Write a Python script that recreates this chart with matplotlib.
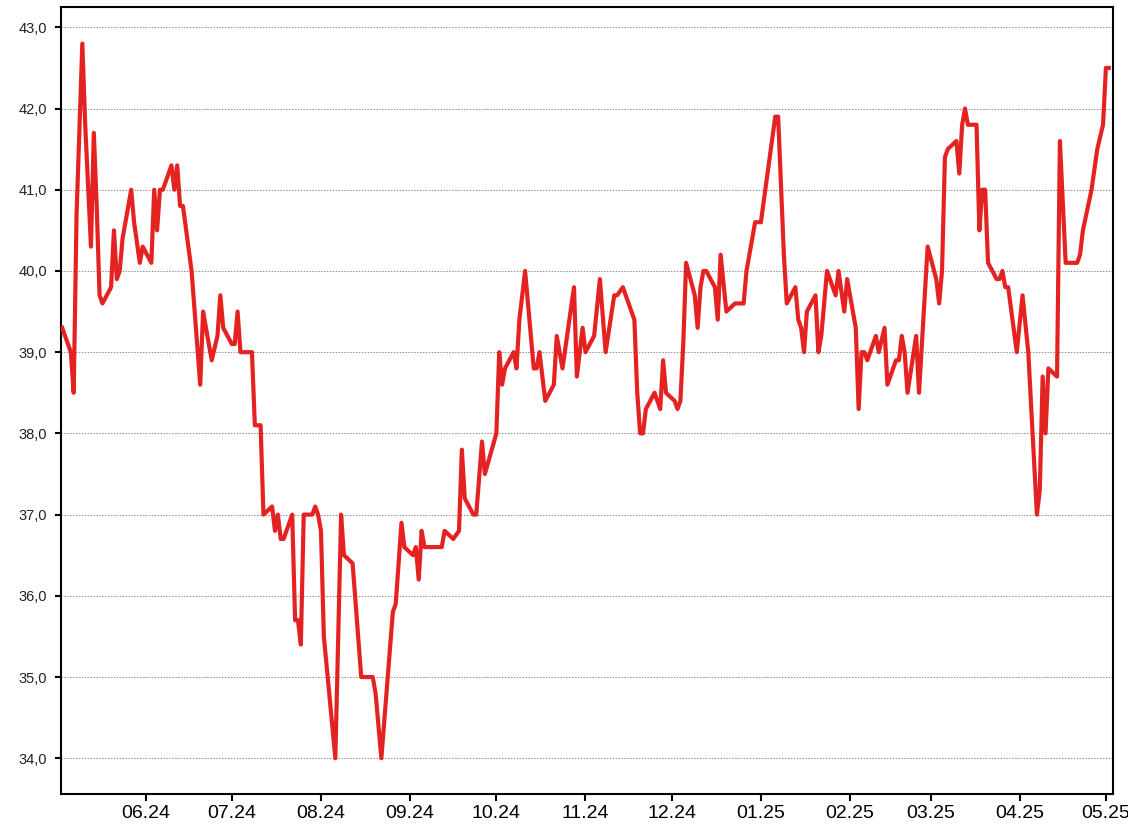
import matplotlib
matplotlib.use("Agg")
import matplotlib.pyplot as plt
import matplotlib.dates as mdates
import matplotlib.ticker as mticker
import pandas as pd

dates = [
    "2024-05-03", "2024-05-06", "2024-05-07", "2024-05-08", "2024-05-10", "2024-05-11",
    "2024-05-13", "2024-05-14", "2024-05-15", "2024-05-16", "2024-05-17", "2024-05-20",
    "2024-05-21", "2024-05-22", "2024-05-23", "2024-05-24", "2024-05-27", "2024-05-28",
    "2024-05-30", "2024-05-31",
    "2024-06-03", "2024-06-04", "2024-06-05", "2024-06-06", "2024-06-07", "2024-06-10",
    "2024-06-11", "2024-06-12", "2024-06-13", "2024-06-14", "2024-06-17", "2024-06-20",
    "2024-06-21", "2024-06-24", "2024-06-26", "2024-06-27", "2024-06-28",
    "2024-07-01", "2024-07-02", "2024-07-03", "2024-07-04", "2024-07-08", "2024-07-09",
    "2024-07-11", "2024-07-12", "2024-07-15", "2024-07-16", "2024-07-17", "2024-07-18",
    "2024-07-19", "2024-07-22", "2024-07-23", "2024-07-24", "2024-07-25", "2024-07-26",
    "2024-07-29", "2024-07-30", "2024-07-31",
    "2024-08-01", "2024-08-02", "2024-08-06", "2024-08-08", "2024-08-09", "2024-08-12",
    "2024-08-15", "2024-08-19", "2024-08-20", "2024-08-22", "2024-08-26", "2024-08-27",
    "2024-08-29", "2024-08-30",
    "2024-09-02", "2024-09-03", "2024-09-04", "2024-09-05", "2024-09-06", "2024-09-12",
    "2024-09-13", "2024-09-16", "2024-09-18", "2024-09-19", "2024-09-20", "2024-09-23",
    "2024-09-24", "2024-09-26", "2024-09-27",
    "2024-10-01", "2024-10-02", "2024-10-03", "2024-10-04", "2024-10-07", "2024-10-08",
    "2024-10-09", "2024-10-11", "2024-10-14", "2024-10-15", "2024-10-16", "2024-10-18",
    "2024-10-21", "2024-10-22", "2024-10-24", "2024-10-28", "2024-10-29", "2024-10-31",
    "2024-11-01", "2024-11-04", "2024-11-06", "2024-11-08", "2024-11-11", "2024-11-12",
    "2024-11-14", "2024-11-18", "2024-11-19", "2024-11-20", "2024-11-21", "2024-11-22",
    "2024-11-25", "2024-11-27", "2024-11-28", "2024-11-29",
    "2024-12-02", "2024-12-03", "2024-12-04", "2024-12-05", "2024-12-06", "2024-12-09",
    "2024-12-10", "2024-12-11", "2024-12-12", "2024-12-13", "2024-12-16", "2024-12-17",
    "2024-12-18", "2024-12-20", "2024-12-23", "2024-12-26", "2024-12-27", "2024-12-30",
    "2025-01-01", "2025-01-06", "2025-01-07", "2025-01-09", "2025-01-10", "2025-01-13",
    "2025-01-14", "2025-01-15", "2025-01-16", "2025-01-17", "2025-01-20", "2025-01-21",
    "2025-01-22", "2025-01-24", "2025-01-27", "2025-01-28", "2025-01-30", "2025-01-31",
    "2025-02-03", "2025-02-04", "2025-02-05", "2025-02-06", "2025-02-07", "2025-02-10",
    "2025-02-11", "2025-02-13", "2025-02-14", "2025-02-17", "2025-02-18", "2025-02-19",
    "2025-02-20", "2025-02-21", "2025-02-24", "2025-02-25", "2025-02-28",
    "2025-03-03", "2025-03-04", "2025-03-05", "2025-03-06", "2025-03-07", "2025-03-10",
    "2025-03-11", "2025-03-12", "2025-03-13", "2025-03-14", "2025-03-17", "2025-03-18",
    "2025-03-19", "2025-03-20", "2025-03-21", "2025-03-24", "2025-03-25", "2025-03-26",
    "2025-03-27", "2025-03-28", "2025-03-31",
    "2025-04-02", "2025-04-04", "2025-04-07", "2025-04-08", "2025-04-09", "2025-04-10",
    "2025-04-11", "2025-04-14", "2025-04-15", "2025-04-17", "2025-04-21", "2025-04-22",
    "2025-04-23", "2025-04-26", "2025-04-28", "2025-04-30",
    "2025-05-01", "2025-05-02",
]

values = [
    39.3, 39.0, 38.5, 40.7, 42.8, 41.8,
    40.3, 41.7, 40.8, 39.7, 39.6, 39.8,
    40.5, 39.9, 40.0, 40.4, 41.0, 40.6,
    40.1, 40.3,
    40.1, 41.0, 40.5, 41.0, 41.0, 41.3,
    41.0, 41.3, 40.8, 40.8, 40.0, 38.6,
    39.5, 38.9, 39.2, 39.7, 39.3,
    39.1, 39.1, 39.5, 39.0, 39.0, 38.1,
    38.1, 37.0, 37.1, 36.8, 37.0, 36.7,
    36.7, 37.0, 35.7, 35.7, 35.4, 37.0,
    37.0, 37.1, 37.0,
    36.8, 35.5, 34.0, 37.0, 36.5, 36.4,
    35.0, 35.0, 34.8, 34.0, 35.8, 35.9,
    36.9, 36.6,
    36.5, 36.6, 36.2, 36.8, 36.6, 36.6,
    36.8, 36.7, 36.8, 37.8, 37.2, 37.0,
    37.0, 37.9, 37.5,
    38.0, 39.0, 38.6, 38.8, 39.0, 38.8,
    39.4, 40.0, 38.8, 38.8, 39.0, 38.4,
    38.6, 39.2, 38.8, 39.8, 38.7, 39.3,
    39.0, 39.2, 39.9, 39.0, 39.7, 39.7,
    39.8, 39.4, 38.5, 38.0, 38.0, 38.3,
    38.5, 38.3, 38.9, 38.5,
    38.4, 38.3, 38.4, 39.1, 40.1, 39.7,
    39.3, 39.8, 40.0, 40.0, 39.8, 39.4,
    40.2, 39.5, 39.6, 39.6, 40.0, 40.6,
    40.6, 41.9, 41.9, 40.2, 39.6, 39.8,
    39.4, 39.3, 39.0, 39.5, 39.7, 39.0,
    39.2, 40.0, 39.7, 40.0, 39.5, 39.9,
    39.3, 38.3, 39.0, 39.0, 38.9, 39.2,
    39.0, 39.3, 38.6, 38.9, 38.9, 39.2,
    39.0, 38.5, 39.2, 38.5, 40.3,
    39.9, 39.6, 40.0, 41.4, 41.5, 41.6,
    41.2, 41.8, 42.0, 41.8, 41.8, 40.5,
    41.0, 41.0, 40.1, 39.9, 39.9, 40.0,
    39.8, 39.8, 39.0,
    39.7, 39.0, 37.0, 37.3, 38.7, 38.0,
    38.8, 38.7, 41.6, 40.1, 40.1, 40.2,
    40.5, 41.0, 41.5, 41.8,
    42.5, 42.5,
]

x = pd.to_datetime(dates)

y_ticks = [34, 35, 36, 37, 38, 39, 40, 41, 42, 43]

plt.rcParams['font.family'] = ['Liberation Sans', 'DejaVu Sans']

fig = plt.figure(figsize=(11.28, 8.36), dpi=100)
ax = fig.add_axes([61 / 1128, 1 - 794 / 836, (1112.5 - 61) / 1128, (794 - 7) / 836])

ax.plot(x, values, color='#e52222', lw=3.0, solid_joinstyle='round', zorder=3)

ax.set_ylim(33.56, 43.25)
ax.set_xlim(pd.Timestamp("2024-05-02 14:00"), pd.Timestamp("2025-05-03 07:00"))

ax.set_yticks(y_ticks)
ax.yaxis.set_major_formatter(mticker.FuncFormatter(lambda v, p: f"{v:.1f}".replace('.', ',')))
ax.xaxis.set_major_locator(mdates.MonthLocator())
ax.xaxis.set_major_formatter(mdates.DateFormatter('%m.%y'))

ax.grid(axis='y', color='#8c8c8c', linestyle=(0, (1.5, 1.5)), linewidth=0.7, zorder=1)
ax.grid(axis='x', visible=False)

for s in ax.spines.values():
    s.set_color('black')
    s.set_linewidth(1.5)

ax.tick_params(axis='y', direction='out', length=4, width=1.5, labelsize=10.5, pad=6, colors='black')
ax.tick_params(axis='y', labelcolor='#222222')
ax.tick_params(axis='x', direction='out', length=5, width=1.5, labelsize=14, pad=3, colors='black')

fig.savefig('out.png', dpi=100)
